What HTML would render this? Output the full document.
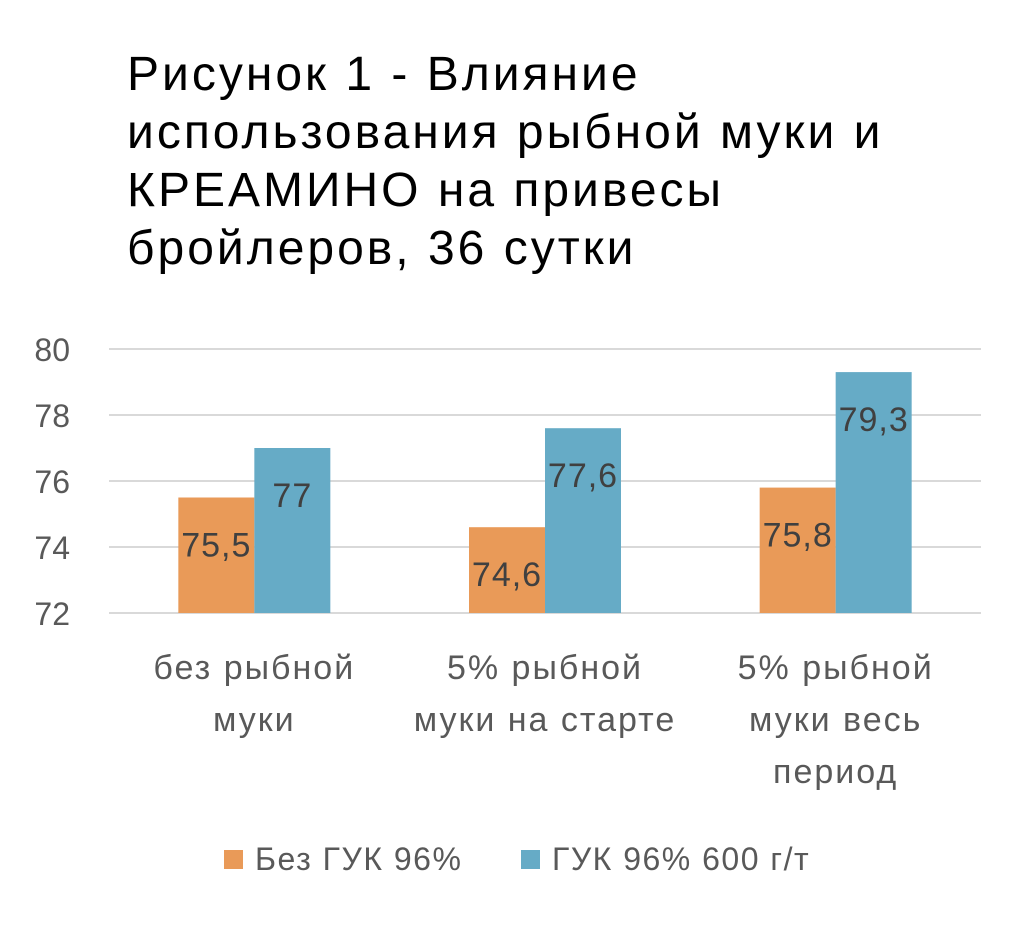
<!DOCTYPE html>
<html><head><meta charset="utf-8"><style>
body{margin:0;background:#fff;width:1024px;height:923px;overflow:hidden;font-family:"Liberation Sans",sans-serif;}
</style></head><body>
<svg width="1024" height="923" xmlns="http://www.w3.org/2000/svg">
<g font-size="48" fill="#000" letter-spacing="3">
<text x="127" y="90">Рисунок 1 - Влияние</text>
<text x="127" y="148">использования рыбной муки и</text>
<text x="127" y="206">КРЕАМИНО на привесы</text>
<text x="127" y="264">бройлеров, 36 сутки</text>
</g>
<g id="grid"></g><g id="bars"></g><g id="labels"></g>
<g font-size="32" fill="#595959" letter-spacing="1.5">
<rect x="224" y="850" width="19" height="19" fill="#E99A58"/>
<text x="255" y="870">Без ГУК 96%</text>
<rect x="521" y="850" width="19" height="19" fill="#66ABC6"/>
<text x="552" y="870">ГУК 96% 600 г/т</text>
</g>
</svg>
<script>
const categories=[["без рыбной","муки"],["5% рыбной","муки на старте"],["5% рыбной","муки весь","период"]];
const series1=[75.5,74.6,75.8];
const series2=[77,77.6,79.3];
const ticks=[72,74,76,78,80];
const ns="http://www.w3.org/2000/svg";
const x0=109,x1=981,yMin=72,yMax=80,yTop=349,yBot=613;
const y=v=>yBot-(v-yMin)/(yMax-yMin)*(yBot-yTop);
const gw=(x1-x0)/categories.length,bw=76;
const cx=i=>x0+gw*(i+0.5);
function mk(t,a,p){const e=document.createElementNS(ns,t);for(const k in a)e.setAttribute(k,a[k]);p.appendChild(e);return e;}
const grid=document.getElementById('grid'),bars=document.getElementById('bars'),labels=document.getElementById('labels');
ticks.forEach(t=>{
const l=mk('line',{x1:x0,x2:x1,y1:y(t),y2:y(t),stroke:'#d9d9d9','stroke-width':2},grid);


const tx=mk('text',{x:70,y:y(t)+12,'text-anchor':'end','font-size':32,fill:'#595959'},grid);
tx.textContent=t;


});
[series1,series2].forEach((s,si)=>{
s.forEach((v,i)=>{
const bx=cx(i)+(si===0?-bw:0);
const r=mk('rect',{x:bx,y:y(v),width:bw,height:yBot-y(v),fill:si===0?'#E99A58':'#66ABC6'},bars);


const t=mk('text',{x:bx+bw/2,y:y(v)+59,'text-anchor':'middle','font-size':34,fill:'#404040','letter-spacing':1},labels);
t.textContent=String(v).replace('.',',');


});
});
categories.forEach((c,i)=>{
c.forEach((line,j)=>{
const t=mk('text',{x:cx(i),y:679+j*52,'text-anchor':'middle','font-size':34,fill:'#595959','letter-spacing':2},labels);
t.textContent=line;


});
});
</script>
</body></html>
